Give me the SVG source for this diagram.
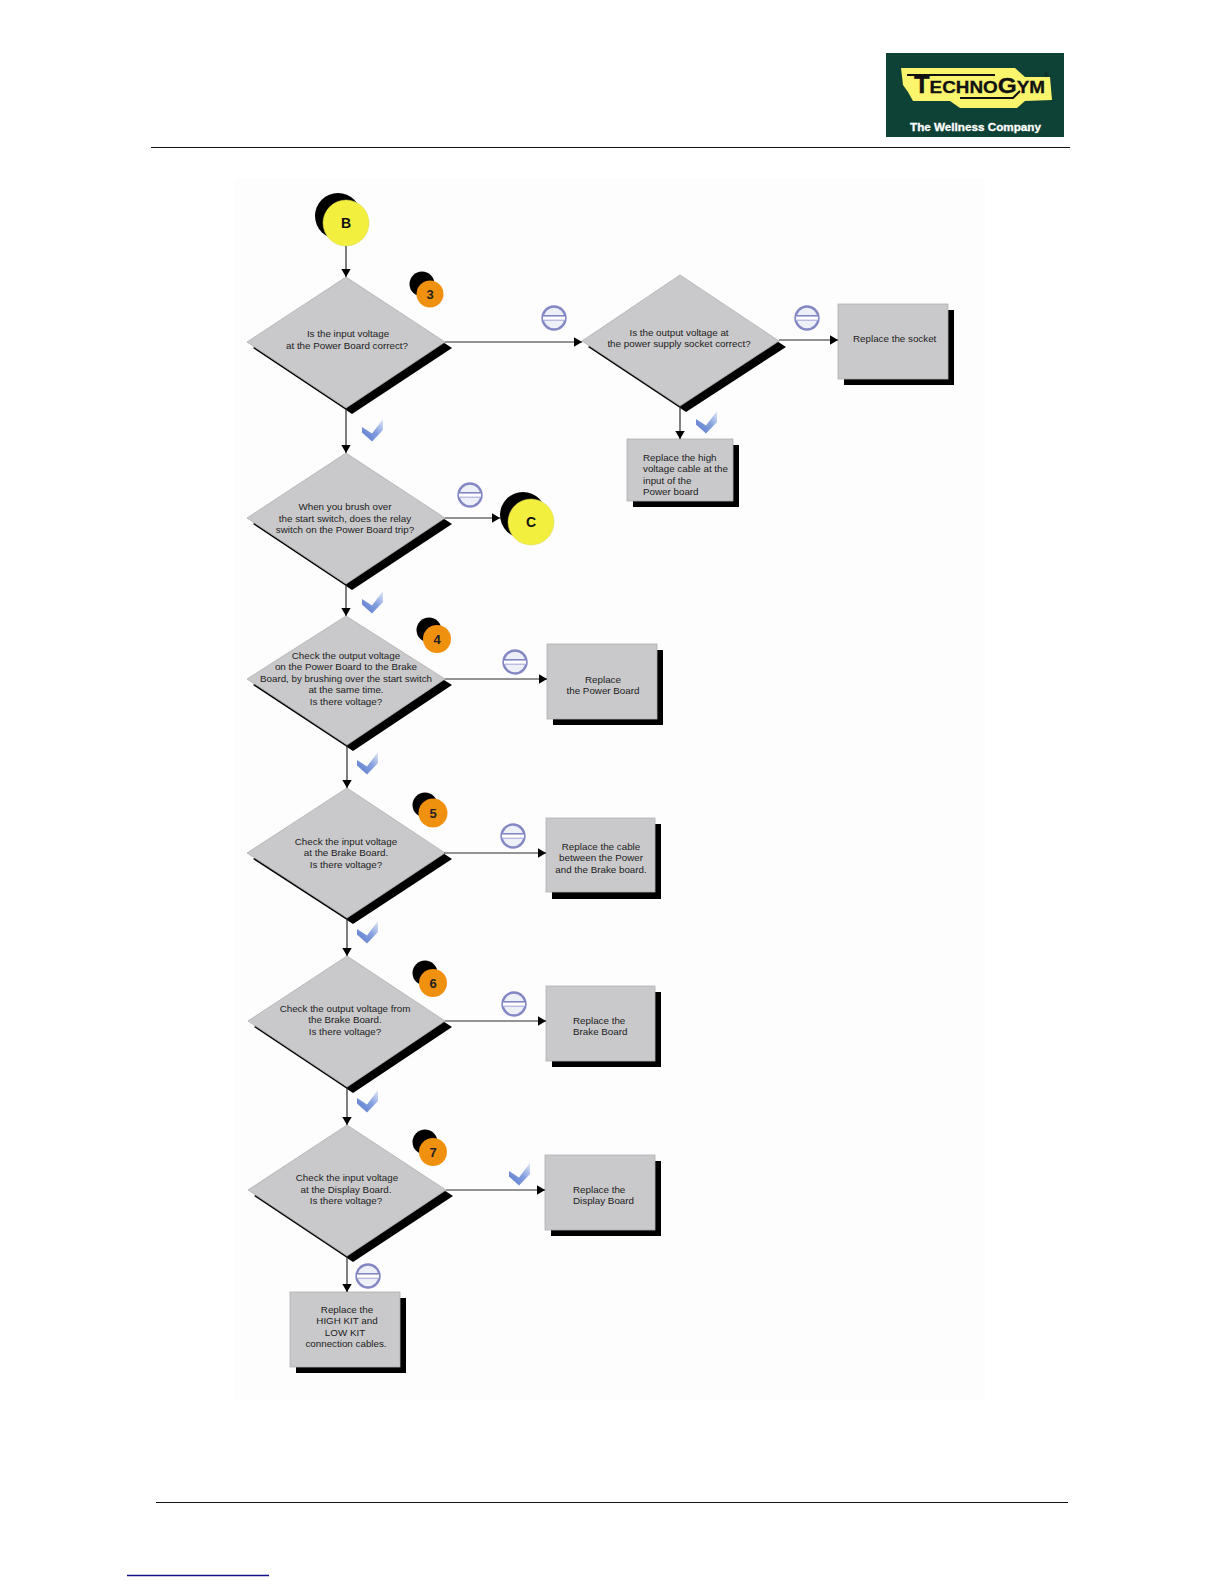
<svg xmlns="http://www.w3.org/2000/svg" xmlns:xlink="http://www.w3.org/1999/xlink" width="1224" height="1584" viewBox="0 0 1224 1584">
<style>
text{font-family:"Liberation Sans",Arial,sans-serif;fill:#1c1c1c}
.t{font-size:9.8px;text-anchor:middle}
.l{font-size:9.8px}
.shape{fill:#c9c9cb;stroke:#b0b0b2;stroke-width:.8}
.sh{fill:#000}
.big{font-size:14px;font-weight:bold;text-anchor:middle;fill:#111}
.num{font-size:13px;font-weight:bold;text-anchor:middle;fill:#222}
.y{fill:#f3ef3e;stroke:#d8d850;stroke-width:.5}
.o{fill:#f0900f}
.c{fill:none;stroke:#2a2a2a;stroke-width:1.2;marker-end:url(#a)}
.rule{stroke:#111;stroke-width:1.2}
</style>
<defs>
<marker id="a" markerUnits="userSpaceOnUse" markerWidth="9" markerHeight="10" refX="8.5" refY="5" orient="auto"><path d="M0 0L8.5 5L0 10Z" fill="#000"/></marker>
<linearGradient id="cg" x1="0" y1="1" x2="1" y2="0"><stop offset="0" stop-color="#5b78cc"/><stop offset=".55" stop-color="#84a0df"/><stop offset="1" stop-color="#e4e9f8"/></linearGradient>
<symbol id="no" overflow="visible"><circle r="11.500" fill="#eef0f8" stroke="#8388c4" stroke-width="2.400"/><rect x="-11" y="-2.200" width="22" height="4.400" fill="#fff"/><path d="M-11-2.200H11" stroke="#8388c4" stroke-width="1.600"/><path d="M-11 2.200H11" stroke="#a7abd8" stroke-width="1.100"/></symbol>
<symbol id="ok" overflow="visible"><path d="M-10-4L0 2.500L11-12V-1L0 10.500L-10 1.500Z" fill="url(#cg)"/></symbol>
</defs>
<rect width="1224" height="1584" fill="#fff"/>
<rect x="235" y="178" width="750" height="1222" fill="#fdfdfd"/>

<g id="logo">
<rect x="886" y="53" width="178" height="84" fill="#0e4236"/>
<path d="M901 68H1015L1025 77H1050L1052 100L1025 101L1017 108H960L950 101H913L908 92L903 85Z" fill="#fbf56e"/>
<path d="M907 75H995M960 98H1013L1020 91" fill="none" stroke="#111" stroke-width="2"/>
<text x="914" y="92.500" textLength="131" lengthAdjust="spacingAndGlyphs" font-size="17" font-weight="bold" stroke="#111" stroke-width=".3" style="fill:#111"><tspan font-size="23">T</tspan>ECHNO<tspan font-size="22">G</tspan>YM</text>
<text x="1044" y="77" font-size="6" style="fill:#111">®</text>
<text x="910" y="131" textLength="131" lengthAdjust="spacingAndGlyphs" font-size="11" font-weight="bold" stroke="#fff" stroke-width=".3" style="fill:#fff">The Wellness Company</text>
</g>
<path class="rule" d="M151 147.500H1070M156 1502.500H1068"/>
<path d="M127 1575.500H269" stroke="#10108a" stroke-width="1.500"/>

<g id="start-b"><circle class="sh" cx="338" cy="216" r="23"/><circle class="y" cx="346" cy="223" r="23"/><text class="big" x="346" y="228">B</text></g>
<g id="step-3"><circle class="sh" cx="422" cy="284" r="12.500"/><circle class="o" cx="430" cy="294" r="13.500"/><text class="num" x="430" y="299">3</text></g>
<g id="d1"><path class="sh" d="M253 348L352 283L452 348L352 414Z"/><path class="shape" d="M247 342L346 277L445 342L346 408Z"/><text class="t" x="348" y="337">Is the input voltage</text><text class="t" x="347" y="349">at the Power Board correct?</text></g>
<g id="d2"><path class="sh" d="M588 347L686 281L786 347L686 412Z"/><path class="shape" d="M582 341L680 275L779 341L680 406Z"/><text class="t" x="679" y="336">Is the output voltage at</text><text class="t" x="679" y="347">the power supply socket correct?</text></g>
<g id="b-socket"><rect class="sh" x="844" y="310" width="110" height="75"/><rect class="shape" x="838" y="304" width="110" height="75"/><text class="l" x="853" y="341.500">Replace the socket</text></g>
<g id="b-high"><rect class="sh" x="633" y="445" width="106" height="62"/><rect class="shape" x="627" y="439" width="106" height="62"/><text class="l" x="643" y="460.500">Replace the high</text><text class="l" x="643" y="472">voltage cable at the</text><text class="l" x="643" y="483.500">input of the</text><text class="l" x="643" y="495">Power board</text></g>
<g id="d3"><path class="sh" d="M253 524L352 459L452 524L352 590Z"/><path class="shape" d="M247 518L346 453L445 518L346 584Z"/><text class="t" x="345" y="509.500">When you brush over</text><text class="t" x="345" y="521.500">the start switch, does the relay</text><text class="t" x="345" y="532.500">switch on the Power Board trip?</text></g>
<g id="end-c"><circle class="sh" cx="523" cy="515" r="23"/><circle class="y" cx="531" cy="522" r="23"/><text class="big" x="531" y="527">C</text></g>
<g id="step-4"><circle class="sh" cx="429" cy="630" r="12.500"/><circle class="o" cx="437" cy="639" r="14"/><text class="num" x="437" y="644">4</text></g>
<g id="d4"><path class="sh" d="M253 685L352 622L452 685L353 751Z"/><path class="shape" d="M247 679L346 616L445 679L347 745Z"/><text class="t" x="346" y="658.500">Check the output voltage</text><text class="t" x="346" y="670">on the Power Board to the Brake</text><text class="t" x="346" y="681.500">Board, by brushing over the start switch</text><text class="t" x="346" y="693">at the same time.</text><text class="t" x="346" y="705">Is there voltage?</text></g>
<g id="b-power"><rect class="sh" x="553" y="650" width="110" height="75"/><rect class="shape" x="547" y="644" width="110" height="75"/><text class="t" x="603" y="682.500">Replace</text><text class="t" x="603" y="694">the Power Board</text></g>
<g id="step-5"><circle class="sh" cx="425" cy="805" r="12.500"/><circle class="o" cx="433" cy="813" r="14.500"/><text class="num" x="433" y="818">5</text></g>
<g id="d5"><path class="sh" d="M253 859L353 794L452 859L353 924Z"/><path class="shape" d="M247 853L347 788L445 853L347 918Z"/><text class="t" x="346" y="844.500">Check the input voltage</text><text class="t" x="346" y="856">at the Brake Board.</text><text class="t" x="346" y="867.500">Is there voltage?</text></g>
<g id="b-cable"><rect class="sh" x="552" y="824" width="109" height="75"/><rect class="shape" x="546" y="818" width="109" height="74"/><text class="t" x="601" y="849.500">Replace the cable</text><text class="t" x="601" y="861">between the Power</text><text class="t" x="601" y="872.500">and the Brake board.</text></g>
<g id="step-6"><circle class="sh" cx="425" cy="973" r="12.500"/><circle class="o" cx="433" cy="983" r="14"/><text class="num" x="433" y="988">6</text></g>
<g id="d6"><path class="sh" d="M254 1027L353 962L452 1027L353 1093Z"/><path class="shape" d="M248 1021L347 956L445 1021L347 1087Z"/><text class="t" x="345" y="1011.500">Check the output voltage from</text><text class="t" x="345" y="1023">the Brake Board.</text><text class="t" x="345" y="1034.500">Is there voltage?</text></g>
<g id="b-brake"><rect class="sh" x="552" y="992" width="109" height="75"/><rect class="shape" x="546" y="986" width="109" height="75"/><text class="l" x="573" y="1023.500">Replace the</text><text class="l" x="573" y="1035">Brake Board</text></g>
<g id="step-7"><circle class="sh" cx="425" cy="1142" r="12.500"/><circle class="o" cx="433" cy="1152" r="14"/><text class="num" x="433" y="1157">7</text></g>
<g id="d7"><path class="sh" d="M254 1196L353 1131L453 1196L353 1262Z"/><path class="shape" d="M248 1190L347 1125L446 1190L347 1256Z"/><text class="t" x="347" y="1180.500">Check the input voltage</text><text class="t" x="346" y="1192.500">at the Display Board.</text><text class="t" x="346" y="1204">Is there voltage?</text></g>
<g id="b-display"><rect class="sh" x="551" y="1161" width="110" height="75"/><rect class="shape" x="545" y="1155" width="110" height="75"/><text class="l" x="573" y="1192.500">Replace the</text><text class="l" x="573" y="1204">Display Board</text></g>
<g id="b-kit"><rect class="sh" x="296" y="1298" width="110" height="75"/><rect class="shape" x="290" y="1292" width="110" height="75"/><text class="t" x="347" y="1312.500">Replace the</text><text class="t" x="347" y="1324">HIGH KIT and</text><text class="t" x="345" y="1335.500">LOW KIT</text><text class="t" x="346" y="1347">connection cables.</text></g>

<g id="connectors">
<path class="c" d="M346 246V277"/>
<path class="c" d="M445 342H582"/>
<path class="c" d="M779 340H838"/>
<path class="c" d="M680 406V439"/>
<path class="c" d="M346 408V453"/>
<path class="c" d="M445 518H500"/>
<path class="c" d="M346 584V616"/>
<path class="c" d="M445 679H547"/>
<path class="c" d="M347 745V788"/>
<path class="c" d="M444 853H546"/>
<path class="c" d="M347 918V956"/>
<path class="c" d="M445 1021H546"/>
<path class="c" d="M347 1087V1125"/>
<path class="c" d="M446 1190H545"/>
<path class="c" d="M347 1256V1292"/>
</g>
<g id="labels">
<use xlink:href="#no" href="#no" x="554" y="318"/>
<use xlink:href="#no" href="#no" x="807" y="318"/>
<use xlink:href="#no" href="#no" x="470" y="495"/>
<use xlink:href="#no" href="#no" x="515" y="662"/>
<use xlink:href="#no" href="#no" x="513" y="836"/>
<use xlink:href="#no" href="#no" x="514" y="1004"/>
<use xlink:href="#no" href="#no" x="368" y="1276"/>
<use xlink:href="#ok" href="#ok" x="372" y="431"/>
<use xlink:href="#ok" href="#ok" x="706" y="423"/>
<use xlink:href="#ok" href="#ok" x="372" y="603"/>
<use xlink:href="#ok" href="#ok" x="367" y="764"/>
<use xlink:href="#ok" href="#ok" x="367" y="933"/>
<use xlink:href="#ok" href="#ok" x="367" y="1102"/>
<use xlink:href="#ok" href="#ok" x="519" y="1175"/>
</g>
</svg>
